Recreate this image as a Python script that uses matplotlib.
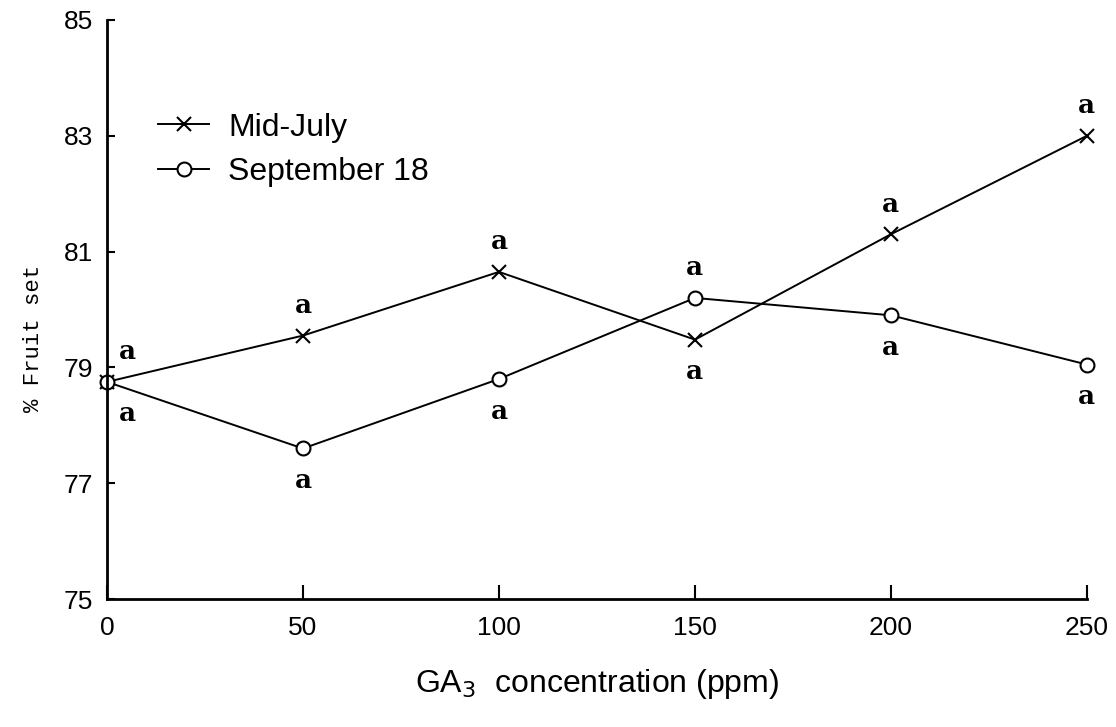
import numpy as np
import matplotlib.pyplot as plt

conc = [0, 50, 100, 150, 200, 250]
mid_july = [78.75, 79.55, 80.65, 79.48, 81.3, 83.0]
sept_18 = [78.75, 77.6, 78.8, 80.2, 79.9, 79.05]

july_letters = ["a", "a", "a", "a", "a", "a"]
sept_letters = ["a", "a", "a", "a", "a", "a"]

# where each letter sits relative to its point
july_side = ["up", "up", "up", "down", "up", "up"]
sept_side = ["down", "down", "down", "up", "down", "down"]

fig = plt.figure(figsize=(11.16, 7.27), dpi=100)
ax = fig.add_axes([0.0959, 0.176, 0.878, 0.7965])

ax.plot(conc, mid_july, color='black', linewidth=1.4, clip_on=False,
        marker='x', markersize=10, markeredgewidth=1.5, label='Mid-July')
ax.plot(conc, sept_18, color='black', linewidth=1.4, clip_on=False,
        marker='o', markersize=10, markerfacecolor='white',
        markeredgewidth=1.5, label='September 18')

letter_font = dict(family='DejaVu Serif', fontweight='bold', fontsize=19,
                   ha='center', va='center')

def put_letters(ys, letters, sides):
    for i in range(len(conc)):
        dy = 30 if sides[i] == "up" else -32
        dx = 20 if conc[i] == 0 else 0
        ax.annotate(letters[i], (conc[i], ys[i]), xytext=(dx, dy),
                    textcoords='offset pixels', **letter_font)

put_letters(mid_july, july_letters, july_side)
put_letters(sept_18, sept_letters, sept_side)

ax.set_xlim(0, 250)
ax.set_ylim(75, 85)
ax.set_xticks(conc)
ax.set_yticks([75, 77, 79, 81, 83, 85])

for s in ['top', 'right']:
    ax.spines[s].set_visible(False)
for s in ['left', 'bottom']:
    ax.spines[s].set_linewidth(2)

ax.tick_params(axis='y', direction='in', length=6, width=1.5,
               labelsize=19, pad=10)
ax.tick_params(axis='x', direction='in', length=10, width=1.5,
               labelsize=19, pad=12)
for lab in ax.get_xticklabels() + ax.get_yticklabels():
    lab.set_fontfamily('Liberation Sans')

ax.set_xlabel(r"GA$_3$  concentration (ppm)", fontsize=23,
              fontfamily='Liberation Sans', labelpad=20)
ax.set_ylabel("% Fruit set", fontsize=16, fontfamily='Liberation Mono')
ax.yaxis.set_label_coords(-0.064, 0.45)

ax.legend(loc='upper left', bbox_to_anchor=(0.052, 0.84), frameon=False,
          prop={'family': 'Liberation Sans', 'size': 23},
          handlelength=1.6, handletextpad=0.6, labelspacing=0.45,
          borderpad=0, borderaxespad=0)

plt.savefig("out.png", dpi=100)
